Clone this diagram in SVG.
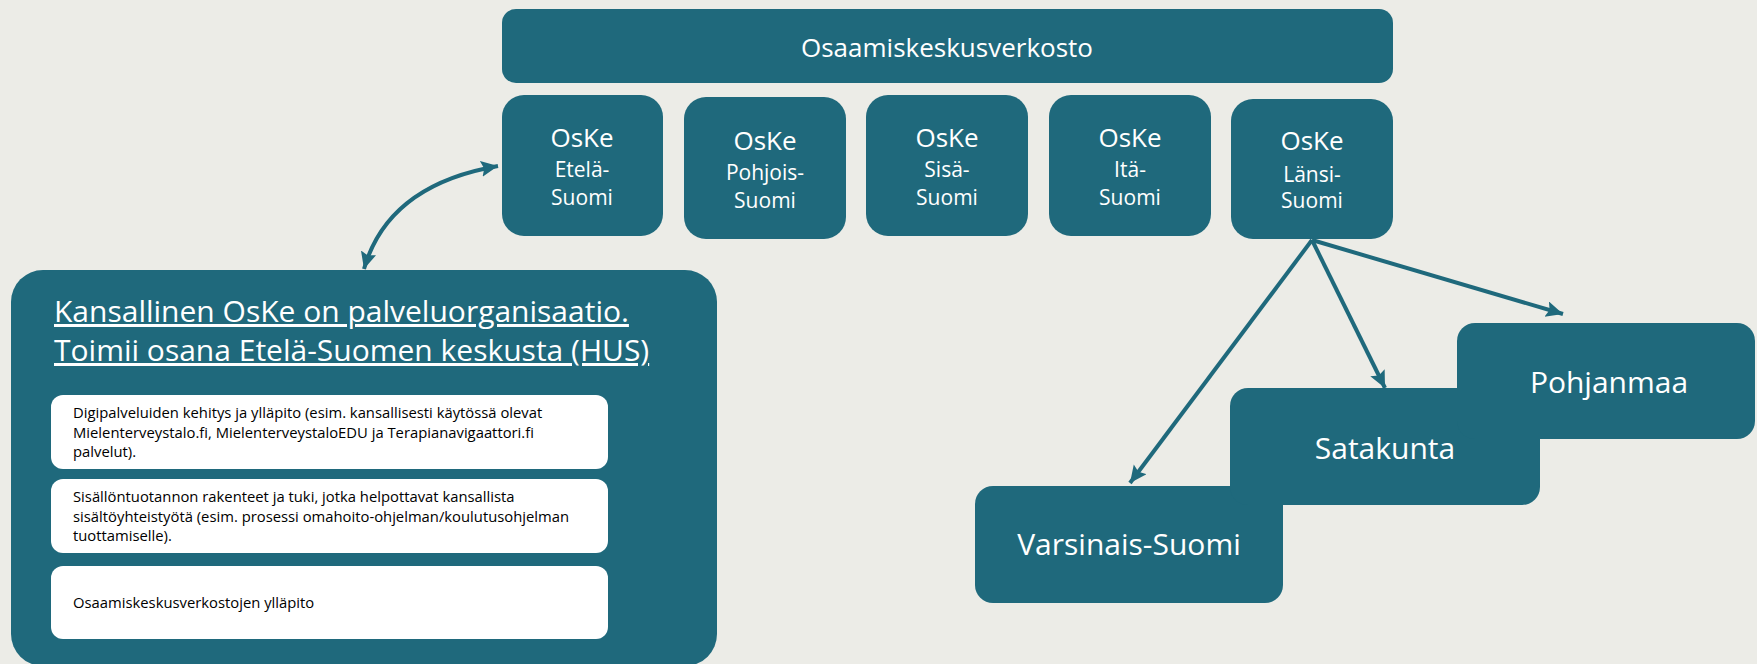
<svg xmlns="http://www.w3.org/2000/svg" width="1757" height="664" viewBox="0 0 1757 664">
<style>
.bg{fill:#ECECE7}
.teal{fill:#1F697C}
.wbox{fill:#FFFFFF}
.t{font-family:"Open Sans","Noto Sans",sans-serif;fill:#FFFFFF;text-anchor:middle}
.big{font-size:26px}
.reg{font-size:21px}
.stair{font-size:30px}
.head{font-family:"Open Sans","Noto Sans",sans-serif;fill:#FFFFFF;font-size:30px;text-decoration:underline}
.body{font-family:"Open Sans","Noto Sans",sans-serif;fill:#000000;font-size:14.8px}
.conn{fill:none;stroke:#1F697C;stroke-width:4}
</style>
<defs>
<marker id="ah" markerUnits="userSpaceOnUse" markerWidth="22" markerHeight="22" refX="17" refY="8" orient="auto-start-reverse">
<path d="M0,0 L17,8 L0,16 L3,8 Z" fill="#1F697C"/>
</marker>
</defs>
<rect class="bg" x="0" y="0" width="1757" height="664"/>

<g id="osaamiskeskusverkosto">
<rect class="teal" x="502" y="9" width="891" height="74" rx="14"/>
<text class="t big" x="947" y="57">Osaamiskeskusverkosto</text>
</g>

<g id="oske-etela">
<rect class="teal" x="502" y="95" width="161" height="141" rx="22"/>
<text class="t big" x="582" y="147">OsKe</text>
<text class="t reg" x="582" y="177">Etelä-</text>
<text class="t reg" x="582" y="205">Suomi</text>
</g>
<g id="oske-pohjois">
<rect class="teal" x="684" y="97" width="162" height="142" rx="22"/>
<text class="t big" x="765" y="150">OsKe</text>
<text class="t reg" x="765" y="180">Pohjois-</text>
<text class="t reg" x="765" y="208">Suomi</text>
</g>
<g id="oske-sisa">
<rect class="teal" x="866" y="95" width="162" height="141" rx="22"/>
<text class="t big" x="947" y="147">OsKe</text>
<text class="t reg" x="947" y="177">Sisä-</text>
<text class="t reg" x="947" y="205">Suomi</text>
</g>
<g id="oske-ita">
<rect class="teal" x="1049" y="95" width="162" height="141" rx="22"/>
<text class="t big" x="1130" y="147">OsKe</text>
<text class="t reg" x="1130" y="177">Itä-</text>
<text class="t reg" x="1130" y="205">Suomi</text>
</g>
<g id="oske-lansi">
<rect class="teal" x="1231" y="99" width="162" height="140" rx="22"/>
<text class="t big" x="1312" y="150">OsKe</text>
<text class="t reg" x="1312" y="182">Länsi-</text>
<text class="t reg" x="1312" y="208">Suomi</text>
</g>

<g id="kansallinen-oske">
<rect class="teal" x="11" y="270" width="706" height="396" rx="32"/>
<text class="head" x="54" y="322">Kansallinen OsKe on palveluorganisaatio.</text>
<text class="head" x="54" y="361">Toimii osana Etelä-Suomen keskusta (HUS)</text>
<rect class="wbox" x="51" y="395" width="557" height="74" rx="12"/>
<text class="body" x="73" y="418">Digipalveluiden kehitys ja ylläpito (esim. kansallisesti käytössä olevat</text>
<text class="body" x="73" y="438">Mielenterveystalo.fi, MielenterveystaloEDU ja Terapianavigaattori.fi</text>
<text class="body" x="73" y="457">palvelut).</text>
<rect class="wbox" x="51" y="479" width="557" height="74" rx="12"/>
<text class="body" x="73" y="502">Sisällöntuotannon rakenteet ja tuki, jotka helpottavat kansallista</text>
<text class="body" x="73" y="522">sisältöyhteistyötä (esim. prosessi omahoito-ohjelman/koulutusohjelman</text>
<text class="body" x="73" y="541">tuottamiselle).</text>
<rect class="wbox" x="51" y="566" width="557" height="73" rx="12"/>
<text class="body" x="73" y="608">Osaamiskeskusverkostojen ylläpito</text>
</g>

<g id="varsinais-suomi">
<rect class="teal" x="975" y="486" width="308" height="117" rx="18"/>
<text class="t stair" x="1129" y="555">Varsinais-Suomi</text>
</g>
<g id="satakunta">
<rect class="teal" x="1230" y="388" width="310" height="117" rx="18"/>
<text class="t stair" x="1385" y="459">Satakunta</text>
</g>
<g id="pohjanmaa">
<rect class="teal" x="1457" y="323" width="298" height="116" rx="18"/>
<text class="t stair" x="1609" y="393">Pohjanmaa</text>
</g>

<g id="connectors">
<path class="conn" d="M364,269 Q388,185 498,166" stroke-width="3.5" marker-start="url(#ah)" marker-end="url(#ah)"/>
<line class="conn" x1="1312" y1="240" x2="1130" y2="483" marker-end="url(#ah)"/>
<line class="conn" x1="1312" y1="240" x2="1385" y2="388" marker-end="url(#ah)"/>
<line class="conn" x1="1312" y1="240" x2="1563" y2="314" marker-end="url(#ah)"/>
</g>
</svg>
